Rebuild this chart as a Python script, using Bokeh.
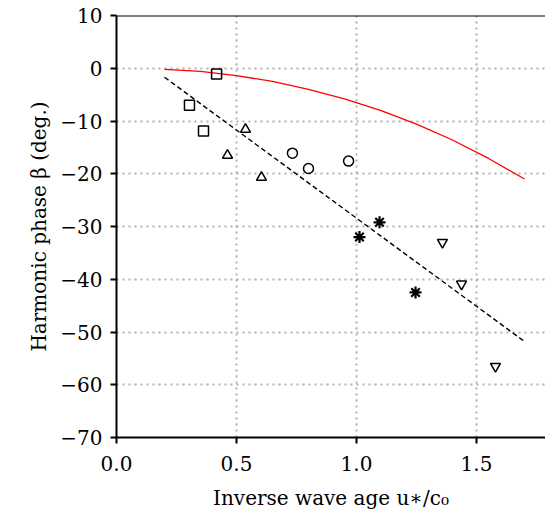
from bokeh.plotting import figure
from bokeh.models import Span, CustomJSTickFormatter, FixedTicker, Range1d
from bokeh.embed import file_html
from bokeh.resources import INLINE

# Data
sq_x = [0.304, 0.3625, 0.417]
sq_y = [-7.0, -11.9, -1.1]
tri_x = [0.4625, 0.5375, 0.604]
tri_y = [-16.5, -11.6, -20.7]
circ_x = [0.733, 0.80, 0.967]
circ_y = [-16.1, -19.0, -17.6]
star_x = [1.0125, 1.096, 1.246]
star_y = [-32.0, -29.2, -42.5]
itri_x = [1.358, 1.4375, 1.579]
itri_y = [-33.0, -40.9, -56.5]

fit_x = [0.2, 1.7]
fit_y = [-1.7, -51.8]

model_x = [0.2, 0.35, 0.5, 0.65, 0.8, 0.95, 1.1, 1.25, 1.4, 1.55, 1.7]
model_y = [-0.2, -0.6, -1.4, -2.5, -4.0, -5.8, -8.0, -10.6, -13.6, -17.1, -21.0]

x_ticks = [0.0, 0.5, 1.0, 1.5]
y_ticks = [10, 0, -10, -20, -30, -40, -50, -60, -70]

FONT = "DejaVu Serif"

p = figure(width=545, height=516, output_backend="svg", toolbar_location=None,
           x_range=Range1d(0, 1.7875), y_range=Range1d(-70, 10),
           min_border_left=116, min_border_right=0, min_border_top=15, min_border_bottom=79)
p.outline_line_color = None
p.background_fill_color = "white"
p.border_fill_color = "white"

for ax in (p.xaxis[0], p.yaxis[0]):
    ax.axis_line_width = 2
    ax.axis_line_color = "black"
    ax.major_tick_line_width = 2
    ax.major_tick_out = 6
    ax.major_tick_in = 0
    ax.minor_tick_line_color = None
    ax.major_label_text_font = FONT
    ax.major_label_text_font_size = "20px"
    ax.major_label_text_color = "black"
    ax.axis_label_text_font = FONT
    ax.axis_label_text_font_size = "20px"
    ax.axis_label_text_font_style = "normal"
    ax.axis_label_text_color = "black"

p.xaxis.ticker = FixedTicker(ticks=x_ticks)
p.yaxis.ticker = FixedTicker(ticks=y_ticks)
p.xaxis.formatter = CustomJSTickFormatter(code="return tick.toFixed(1);")
p.yaxis.formatter = CustomJSTickFormatter(code="return tick < 0 ? '\\u2212' + Math.abs(tick) : String(tick);")
p.xaxis.axis_label = "Inverse wave age u\u2217/c\u2080"
p.yaxis.axis_label = "Harmonic phase \u03b2 (deg.)"
p.xaxis.major_label_standoff = 12
p.yaxis.major_label_standoff = 8
p.xaxis.axis_label_standoff = 12
p.yaxis.axis_label_standoff = 6

for g in (p.xgrid[0], p.ygrid[0]):
    g.grid_line_color = "#b0b0b0"
    g.grid_line_dash = "2 4"
    g.grid_line_width = 2
p.xgrid.ticker = FixedTicker(ticks=x_ticks)
p.ygrid.ticker = FixedTicker(ticks=y_ticks)

p.add_layout(Span(location=10, dimension="width", line_color="black", line_width=2))

p.line(model_x, model_y, line_color="red", line_width=1.3)
p.line(fit_x, fit_y, line_color="black", line_width=1.4, line_dash="5 3")

mk = dict(fill_color=None, line_color="black", line_width=1.5, size=10)
p.scatter(sq_x, sq_y, marker="square", **mk)
p.scatter(tri_x, tri_y, marker="triangle", **mk)
p.scatter(circ_x, circ_y, marker="circle", **mk)
p.scatter(itri_x, itri_y, marker="inverted_triangle", **mk)
p.scatter(star_x, star_y, marker="asterisk", line_color="black", line_width=2.2, size=12)

open("out.html", "w").write(file_html(p, INLINE))
